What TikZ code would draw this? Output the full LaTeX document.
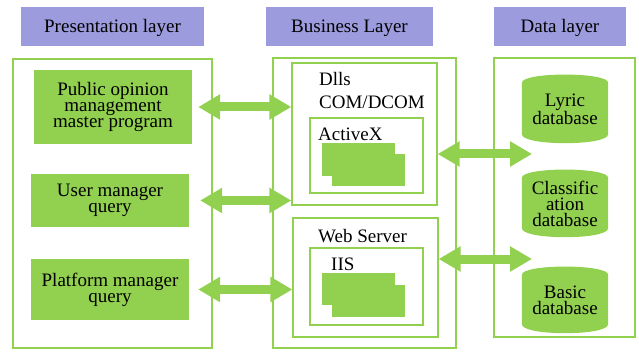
\documentclass[tikz,border=0pt]{standalone}
\usepackage{fontspec}
\setmainfont{Liberation Serif}
\usetikzlibrary{arrows.meta,backgrounds}
\definecolor{leaf}{HTML}{92D050}
\definecolor{lav}{HTML}{9B9BDD}
\tikzset{
  txt/.style={font=\fontsize{19}{16}\selectfont},
  header/.style={txt, fill=lav, inner sep=0pt, minimum height=39pt, minimum width=#1,
    text height=12.5pt, text depth=0pt},
  frame/.style={draw=leaf, line width=1.3pt, inner sep=0pt, minimum width=#1},
  greenbox/.style={txt, fill=leaf, align=center, inner sep=0pt, minimum width=158pt},
  block/.style={fill=leaf, inner sep=0pt, minimum width=73pt, minimum height=#1},
  label/.style={txt, anchor=base west, inner sep=0pt},
  dbnode/.style={txt, align=center, inner sep=0pt, minimum width=86pt, minimum height=#1},
  link/.style={draw=leaf, line width=9pt,
    {Triangle[length=22pt,width=24pt]}-{Triangle[length=22pt,width=24pt]}},
}
% filled cylinder behind a database node
\newcommand{\dbshape}[1]{%
  \begin{scope}[on background layer]
    \fill[leaf] ([yshift=-8pt]#1.north west) .. controls +(0,11) and +(0,11) ..
      ([yshift=-8pt]#1.north east) -- ([yshift=9pt]#1.south east)
      .. controls +(0,-12) and +(0,-12) .. ([yshift=9pt]#1.south west) -- cycle;
  \end{scope}}
\begin{document}
\begin{tikzpicture}[x=1pt,y=1pt]
\useasboundingbox (0,0) rectangle (639,351);

% layer titles
\node[header=183pt] (hpres) at (112.5,324.5) {Presentation layer};
\node[header=167pt] (hbus)  at (349.5,324.5) {Business Layer};
\node[header=132pt] (hdata) at (560,324.5) {Data layer};

% layer frames
\node[frame=199pt, minimum height=289pt] (fpres) at (112.5,147.5) {};
\node[frame=183pt, minimum height=290pt] (fbus)  at (364.5,148) {};
\node[frame=141pt, minimum height=279pt] (fdata) at (564.5,153.5) {};

% presentation layer
\node[greenbox, minimum height=74pt] (pub)  at (113,244)
  {Public opinion\\management\\master program};
\node[greenbox, minimum height=53pt] (user) at (110,150.5) {User manager\\query};
\node[greenbox, minimum height=61pt] (plat) at (110,61.5) {Platform manager\\query};

% business layer
\node[frame=145pt, minimum height=142pt] (dlls) at (364.5,217) {};
\node[frame=113pt, minimum height=75pt]  (actx) at (366.5,195.5) {};
\node[block=33pt] (ax1) at (358.5,191.5) {};
\node[block=32pt] (ax2) at (368.5,181) {};
\node[label] (tdlls) at (319,265) {Dlls};
\node[label] (tcom)  at (319,242) {COM/DCOM};
\node[label] (tactx) at (318,210) {ActiveX};

\node[frame=145pt, minimum height=119pt] (web) at (365.5,73.5) {};
\node[frame=113pt, minimum height=77pt]  (iis) at (366.5,64.5) {};
\node[block=32pt] (ii1) at (358.5,62) {};
\node[block=32pt] (ii2) at (368.5,50) {};
\node[label] (tweb) at (318,109) {Web Server};
\node[label] (tiis) at (331,81) {IIS};

% data layer
\node[dbnode=68pt] (lyric) at (565,242) {Lyric\\database};
\node[dbnode=67pt] (class) at (565,147.5) {Classific\\ation\\database};
\node[dbnode=66pt] (basic) at (565,51) {Basic\\database};
\dbshape{lyric}
\dbshape{class}
\dbshape{basic}

% connections
\draw[link] ([xshift=6pt]pub.east) -- (pub.east -| dlls.west);
\draw[link] ([xshift=11pt]user.east) -- (user.east -| dlls.west);
\draw[link] ([xshift=9pt]plat.east) -- (plat.east -| web.west);
\coordinate (e1) at (532,197);
\coordinate (e2) at (532,92);
\draw[link] (dlls.east |- e1) -- (e1);
\draw[link] (web.east |- e2) -- (e2);
\end{tikzpicture}
\end{document}
